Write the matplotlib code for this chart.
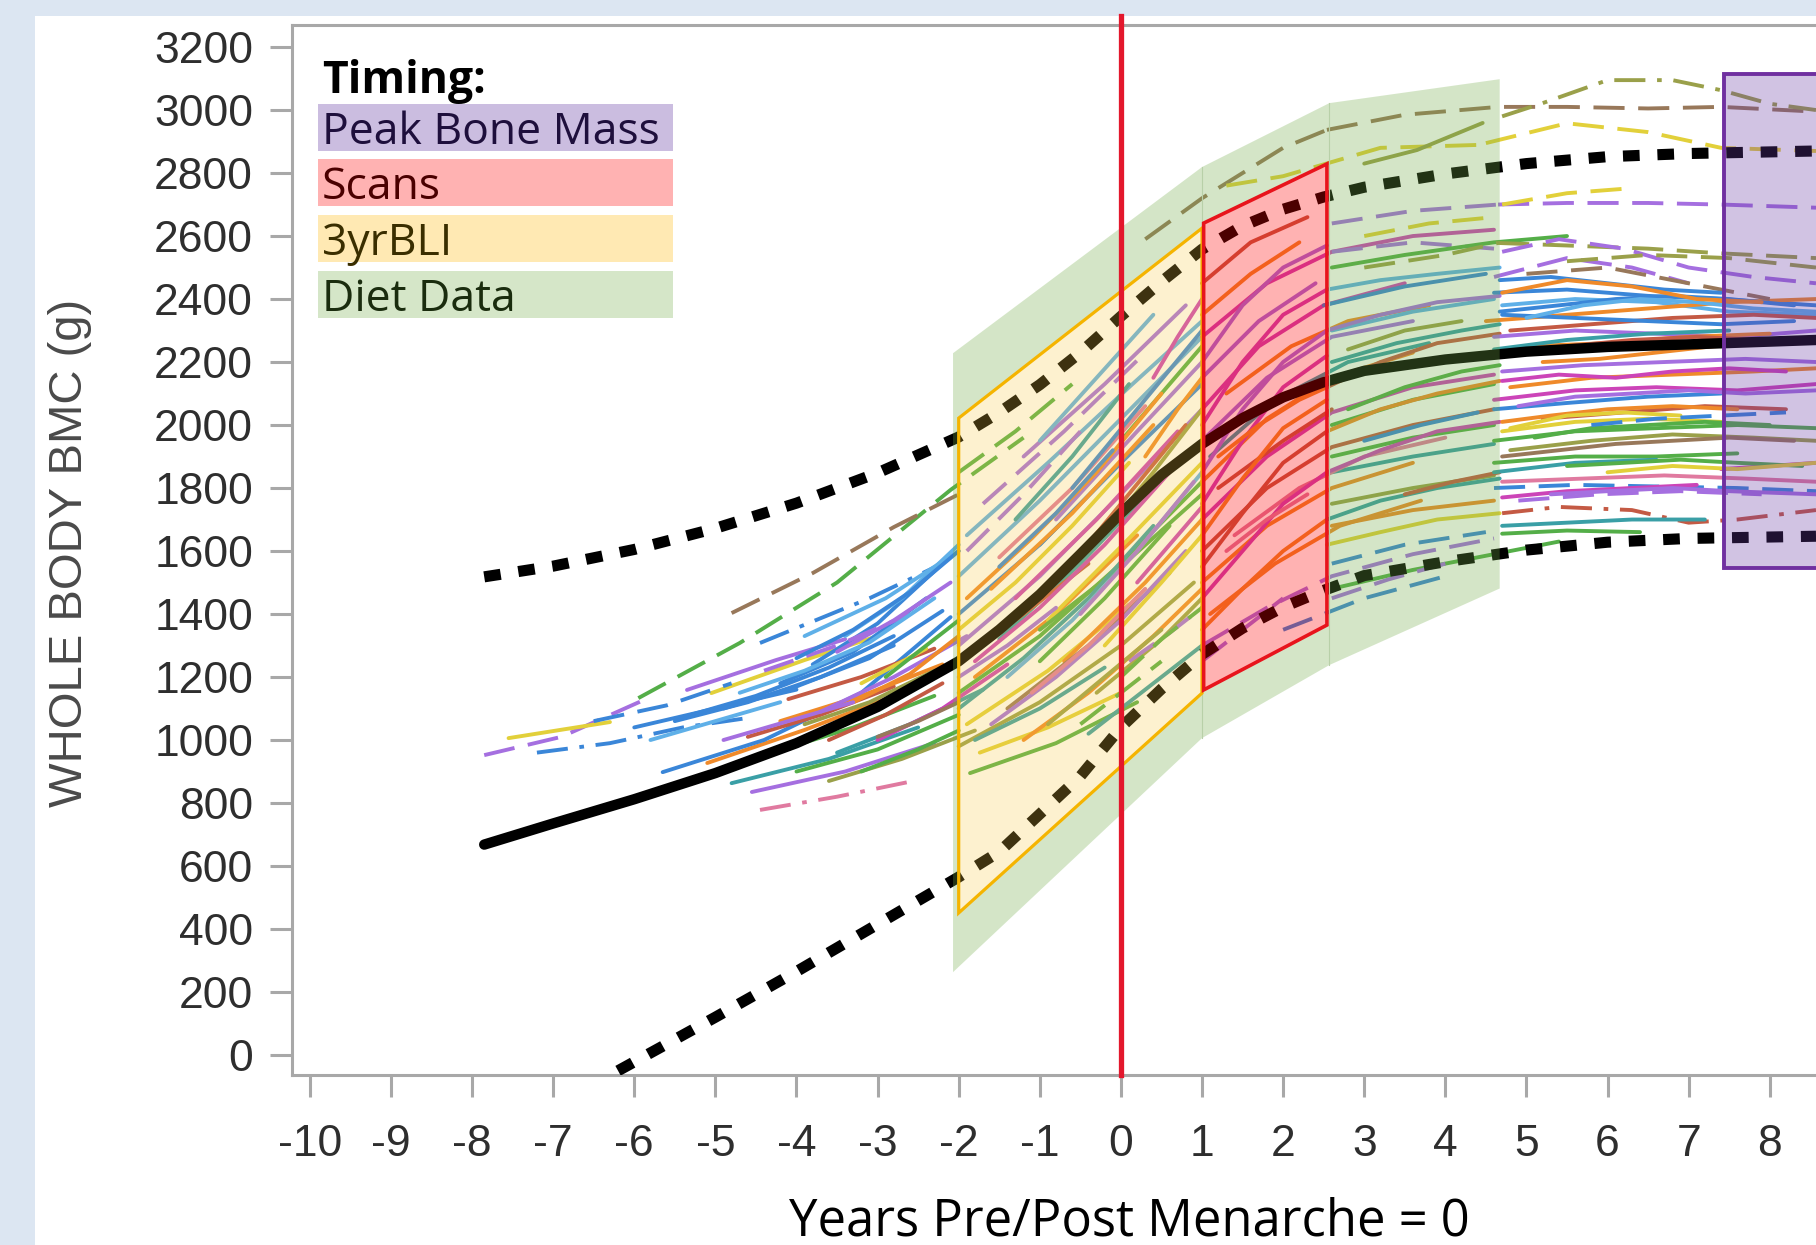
import matplotlib
matplotlib.use('Agg')
import matplotlib.pyplot as plt
from matplotlib.patches import Rectangle, PathPatch
from matplotlib.path import Path
from matplotlib.colors import to_rgba

plt.rcParams['font.family'] = ['Liberation Sans', 'DejaVu Sans']
plt.rcParams['axes.unicode_minus'] = False

W, H = 1816, 1245
SANS = ['Open Sans', 'Noto Sans', 'DejaVu Sans']

# curvas de referencia: media e limites (pontilhados)
curve_age = [-7.85, -7, -6, -5, -4, -3, -2, -1.5, -1, -0.5, 0, 0.5, 1, 1.5, 2, 2.5, 3, 4, 5, 6, 7, 8.57]
mean_bmc = [668, 735, 812, 895, 990, 1105, 1250, 1350, 1462, 1590, 1720, 1842, 1940, 2022, 2088, 2136,
            2172, 2208, 2233, 2248, 2256, 2270]
upper_bmc = [1518, 1552, 1605, 1672, 1752, 1848, 1962, 2040, 2128, 2230, 2345, 2455, 2558, 2632, 2685, 2724,
             2755, 2797, 2830, 2852, 2862, 2870]
lower_age = [-6.2, -5, -4, -3, -2, -1.5, -1, -0.5, 0, 0.5, 1, 1.5, 2, 2.5, 3, 4, 5, 6, 7, 8.57]
lower_bmc = [-50, 120, 265, 415, 565, 645, 765, 885, 1040, 1162, 1272, 1355, 1422, 1475, 1522, 1566, 1603,
             1628, 1640, 1647]

# janelas de tempo (Timing)
menarche_age = 0
diet_age = [-2.07, 1.0, 2.57, 4.67]
diet_low = [263, 1006, 1238, 1481]
diet_high = [2228, 2819, 3022, 3098]
bli_age = [-2.0, 1.0]
bli_low = [451, 1149]
bli_high = [2022, 2625]
scan_age = [1.02, 2.54]
scan_low = [1159, 1365]
scan_high = [2641, 2829]
peak_age = [7.43, 9.5]
peak_bmc = [1546, 3114]

# trajetorias individuais - antes da menarca
pre_age = [[-7.85, -6.9, -5.9], [-7.55, -6.3], [-7.2, -6.3, -5.4, -4.6], [-5.95, -4.7, -3.5, -2.1, -1.2],
           [-4.8, -3.8, -2.8, -2.0], [-4.45, -3.1, -2.2], [-5.35, -4.25, -3.4], [-5.05, -3.9, -3.0],
           [-5.1, -3.9, -2.9], [-4.8, -3.6, -2.5], [-4.45, -3.5, -2.5], [-4.55, -3.4, -2.3],
           [-5.65, -4.4, -3.2, -2.1], [-6.0, -5.0, -4.0], [-5.5, -4.6, -3.7, -2.8], [-4.9, -4.0, -3.1, -2.2],
           [-4.2, -3.3, -2.4], [-3.8, -3.0, -2.2], [-3.4, -2.7, -2.0], [-4.6, -3.7, -2.8],
           [-4.1, -3.2, -2.3], [-4.3, -3.3, -2.3], [-4.0, -3.0, -2.0], [-3.6, -2.7, -1.8],
           [-4.2, -3.2, -2.2], [-3.7, -2.8, -1.9], [-3.2, -2.4], [-3.5, -2.6, -1.7],
           [-3.0, -2.2, -1.4], [-4.4, -3.5, -2.6], [-3.9, -2.9, -2.0], [-3.0, -2.5, -2.0],
           [-5.8, -5.0, -4.2], [-5.3, -4.5, -3.6, -2.8], [-4.7, -3.9, -3.1, -2.3], [-4.0, -3.3, -2.6, -2.0],
           [-3.6, -2.9, -2.2], [-3.3, -2.6, -2.0], [-4.9, -4.1, -3.3], [-3.9, -3.1, -2.3],
           [-2.9, -2.4, -2.0], [-3.5, -2.8, -2.1], [-6.5, -5.6, -4.8], [-3.2, -2.5, -2.0]]
pre_bmc = [[952, 1010, 1125], [1006, 1057], [960, 990, 1040, 1070], [1133, 1308, 1500, 1794, 1960],
           [1403, 1530, 1676, 1780], [1308, 1450, 1560], [1159, 1254, 1320], [1149, 1254, 1330],
           [927, 1032, 1130], [863, 940, 1040], [778, 820, 873], [835, 900, 990],
           [898, 1000, 1150, 1390], [1040, 1100, 1160], [1060, 1120, 1200, 1300], [1100, 1170, 1260, 1410],
           [1180, 1280, 1450], [1240, 1370, 1560], [1330, 1450, 1620], [1010, 1080, 1170],
           [1130, 1200, 1290], [960, 1040, 1140], [900, 970, 1080], [870, 940, 1030],
           [1060, 1140, 1240], [1090, 1200, 1330], [1180, 1290], [960, 1050, 1160],
           [1000, 1100, 1240], [1220, 1300, 1400], [1330, 1450, 1600], [1010, 1060, 1120],
           [1000, 1060, 1120], [1080, 1140, 1230, 1330], [1150, 1220, 1310, 1450], [1260, 1350, 1470, 1600],
           [1000, 1080, 1180], [1120, 1210, 1330], [1000, 1060, 1120], [1050, 1120, 1220],
           [1200, 1300, 1380], [1280, 1380, 1500], [1060, 1110, 1180], [900, 970, 1030]]
pre_color = ['purple', 'yellow', 'blue', 'green', 'brown', 'blue', 'purple', 'yellow',
             'orange', 'teal', 'pink', 'purple', 'blue', 'blue', 'blue', 'blue',
             'blue', 'blue', 'lightblue', 'redbrown', 'redbrown', 'green', 'green', 'olive',
             'orange', 'purple', 'yellow', 'teal', 'magenta', 'purple', 'lightblue', 'brown',
             'lightblue', 'blue', 'lightblue', 'blue', 'redbrown', 'orange', 'purple', 'olive',
             'green', 'purple', 'blue', 'green']
pre_ls = ['dash', 'solid', 'dashdot', 'dash', 'dash', 'dashdot', 'solid', 'solid',
          'solid', 'solid', 'dashdot', 'solid', 'solid', 'solid', 'solid', 'solid',
          'solid', 'solid', 'solid', 'solid', 'solid', 'solid', 'solid', 'solid',
          'solid', 'solid', 'solid', 'solid', 'solid', 'dash', 'solid', 'solid',
          'solid', 'solid', 'solid', 'solid', 'solid', 'solid', 'solid', 'solid',
          'solid', 'solid', 'dash', 'solid']

# trajetorias - janela 3yrBLI
mid_age = [[-2.0, -1.0, 0.0, 1.0], [-2.0, -1.0, 0.0], [-2.0, -1.0, 0.0, 1.0], [-1.8, -0.8, 0.2],
           [-2.0, -1.0, 0.0, 1.0], [-1.9, -0.9, 0.1], [-2.0, -1.0, 0.0, 0.9], [-1.86, -0.8, 0.2],
           [-1.74, -0.9, 0.0], [-1.5, -0.5, 0.5], [-1.3, -0.3, 0.7], [-1.0, 0.0, 1.0],
           [-0.8, 0.2, 1.0], [-1.9, -0.9, 0.1, 1.0], [-1.7, -0.7, 0.3], [-1.2, -0.2, 0.8],
           [-0.7, 0.3, 1.0], [-0.5, 0.5], [-0.3, 0.5, 1.0], [-2.0, -1.2, -0.4],
           [-1.4, -0.4, 0.6], [-0.9, 0.1, 1.0], [0.0, 0.5, 1.0], [0.3, 1.0, 2.0, 2.54],
           [-2.0, -1.3, -0.6], [0.1, 0.6, 1.0], [-1.0, 0.0, 1.0], [-1.6, -0.6, 0.4],
           [-1.5, -0.6, 0.3], [-0.4, 0.4, 1.0],
           [-2.0, -1.2, -0.4, 0.4], [-2.0, -1.3, -0.6, 0.1], [-1.9, -1.1, -0.3, 0.5], [-1.8, -1.0, -0.2, 0.6],
           [-1.6, -0.8, 0.0, 0.8], [-1.4, -0.6, 0.2, 1.0], [-1.2, -0.4, 0.4, 1.0], [-1.0, -0.2, 0.6],
           [-0.8, 0.0, 0.8], [-0.6, 0.2, 1.0], [-0.4, 0.4, 1.0], [-2.0, -1.4, -0.8],
           [-1.5, -0.8, -0.1], [-0.2, 0.5, 1.0], [0.2, 0.6, 1.0], [-1.8, -1.0, -0.2],
           [-1.1, -0.4, 0.3], [-0.5, 0.2, 0.9], [0.3, 0.7, 1.0], [-1.9, -1.2, -0.5],
           [-1.0, -0.3, 0.4], [0.0, 0.5, 1.0], [-0.9, -0.2, 0.5], [0.4, 0.7, 1.0], [-1.3, -0.6, 0.1]]
mid_bmc = [[1520, 1760, 2020, 2280], [1400, 1620, 1880], [1300, 1520, 1780, 2050], [1200, 1400, 1650],
           [1150, 1330, 1560, 1820], [1050, 1220, 1430], [980, 1120, 1300, 1500], [895, 990, 1120],
           [960, 1040, 1150], [1320, 1560, 1830], [1450, 1700, 1980], [1620, 1880, 2130],
           [1700, 1980, 2200], [1650, 1880, 2120, 2330], [1750, 1980, 2230], [1900, 2130, 2380],
           [1250, 1500, 1700], [1050, 1250], [1150, 1320, 1450], [1250, 1400, 1560],
           [1100, 1300, 1530], [1380, 1640, 1880], [1950, 2100, 2250], [2590, 2720, 2880, 2937],
           [1850, 1980, 2130], [1250, 1340, 1420], [1350, 1550, 1780], [1480, 1720, 2000],
           [1580, 1800, 2060], [1020, 1180, 1300],
           [1100, 1260, 1450, 1680], [1350, 1500, 1680, 1880], [1450, 1640, 1850, 2100], [1250, 1420, 1620, 1850],
           [1050, 1200, 1380, 1600], [1200, 1380, 1600, 1850], [1000, 1150, 1330, 1480], [1250, 1450, 1680],
           [1500, 1750, 2000], [1800, 2050, 2300], [1600, 1850, 2050], [1200, 1300, 1420],
           [1550, 1720, 1920], [1300, 1500, 1650], [1500, 1620, 1740], [1000, 1100, 1230],
           [1150, 1300, 1480], [1400, 1600, 1820], [1900, 2050, 2150], [1600, 1780, 1980],
           [1950, 2150, 2350], [1200, 1320, 1420], [1050, 1200, 1350], [2150, 2280, 2400], [1700, 1900, 2130]]
mid_color = ['lightblue', 'blue', 'purple', 'orange', 'green', 'yellow', 'olive', 'green',
             'yellow', 'teal', 'magenta', 'blue', 'purple', 'lightblue', 'purple', 'purple',
             'orange', 'green', 'olive', 'redbrown', 'brown', 'yellow', 'green', 'brown',
             'green', 'purple', 'green', 'orange', 'pink', 'teal',
             'teal', 'yellow', 'orange', 'magenta', 'purple', 'lightblue', 'orange', 'green',
             'redbrown', 'blue', 'olive', 'purple', 'blue', 'yellow', 'magenta', 'teal',
             'pink', 'purple', 'orange', 'purple', 'lightblue', 'green', 'olive', 'magenta', 'teal']
mid_ls = ['solid', 'solid', 'solid', 'solid', 'solid', 'solid', 'solid', 'solid',
          'solid', 'solid', 'solid', 'solid', 'solid', 'solid', 'dash', 'solid',
          'solid', 'dash', 'solid', 'solid', 'solid', 'solid', 'solid', 'dash',
          'dash', 'dash', 'solid', 'solid', 'solid', 'solid',
          'solid', 'solid', 'solid', 'solid', 'solid', 'solid', 'solid', 'solid',
          'solid', 'solid', 'solid', 'solid', 'solid', 'solid', 'solid', 'solid',
          'solid', 'solid', 'solid', 'dash', 'solid', 'dash', 'solid', 'solid', 'solid']

# trajetorias - janela Scans e Diet Data
scan_traj_age = [[1.0, 1.8, 2.6, 3.6, 4.6], [1.0, 1.7, 2.5, 3.5], [1.0, 1.8, 2.6, 3.6], [1.0, 1.8, 2.6, 3.6, 4.6],
                 [1.0, 1.8, 2.6, 3.6], [1.0, 1.8, 2.6, 3.6, 4.6], [1.0, 1.8, 2.6, 3.6], [1.0, 1.7, 2.4],
                 [1.1, 1.9, 2.7, 3.7], [1.0, 1.8, 2.6, 3.6, 4.6], [1.0, 1.6, 2.3], [1.2, 2.0, 2.6],
                 [1.3, 2.1, 2.8, 3.8], [2.5, 3.5, 4.5], [2.6, 3.6, 4.6], [2.6, 3.4, 4.2, 4.67],
                 [2.6, 3.6, 4.6], [2.6, 3.6, 4.6], [2.6, 3.6, 4.6], [2.6, 3.6, 4.6],
                 [2.6, 3.6, 4.6], [2.6, 3.5, 4.5], [2.6, 3.6, 4.6, 5.4], [2.6, 3.6, 4.6],
                 [2.6, 3.5, 4.6, 5.5], [1.3, 2.0, 3.2, 4.5], [3.0, 3.65, 4.46], [2.6, 3.6, 4.65],
                 [3.0, 4.0, 4.65], [1.1, 1.9, 2.8, 3.8], [1.4, 2.2, 3.0, 4.0], [2.0, 3.0, 4.0],
                 [1.0, 1.5, 2.0, 2.54], [1.0, 1.5, 2.0, 2.54], [1.0, 1.5, 2.0, 2.54], [1.0, 1.5, 2.0, 2.54],
                 [1.0, 1.5, 2.0, 2.54], [1.0, 1.5, 2.0, 2.54], [1.0, 1.5, 2.0, 2.54], [1.0, 1.5, 2.0, 2.54],
                 [1.0, 1.5, 2.0], [1.2, 1.7, 2.2, 2.54], [1.3, 1.8, 2.3], [1.0, 1.6, 2.2],
                 [2.54, 3.2, 3.9, 4.67], [2.54, 3.2, 3.9, 4.67], [2.54, 3.2, 3.9, 4.67], [2.54, 3.2, 3.9, 4.67],
                 [2.54, 3.2, 3.9, 4.67], [2.54, 3.2, 3.9, 4.67], [2.54, 3.2, 3.9, 4.67], [2.8, 3.5, 4.2, 4.67],
                 [2.8, 3.5, 4.2], [3.0, 3.7, 4.4], [3.0, 3.8, 4.6], [3.5, 4.1, 4.67], [2.6, 3.3, 4.0]]
scan_traj_bmc = [[2280, 2450, 2550, 2600, 2620], [2050, 2250, 2380, 2450], [1820, 2020, 2150, 2230],
                 [1600, 1800, 1930, 2000, 2050], [1500, 1680, 1800, 1880], [1700, 1900, 2040, 2120, 2160],
                 [1950, 2150, 2280, 2330], [2150, 2330, 2450], [1400, 1560, 1680, 1760],
                 [1300, 1420, 1520, 1590, 1640], [2450, 2580, 2660], [1800, 1950, 2050],
                 [2100, 2250, 2330, 2380], [2380, 2440, 2480], [2300, 2360, 2400], [2200, 2260, 2300, 2320],
                 [2000, 2080, 2130], [1900, 1960, 2000], [1850, 1900, 1940], [1750, 1800, 1840],
                 [1680, 1730, 1760], [1560, 1620, 1660], [1480, 1540, 1590, 1630], [2550, 2580, 2560],
                 [2500, 2540, 2580, 2600], [2760, 2790, 2880, 2890], [2830, 2873, 2959], [2640, 2680, 2700],
                 [2500, 2540, 2578], [1900, 2080, 2200, 2260], [1650, 1800, 1900, 1960], [1350, 1450, 1520],
                 [1350, 1480, 1600, 1700], [1450, 1600, 1750, 1850], [1550, 1720, 1880, 1980],
                 [1650, 1830, 1990, 2080], [1750, 1950, 2120, 2220], [1850, 2050, 2200, 2300],
                 [2000, 2200, 2350, 2430], [2200, 2380, 2500, 2570], [1250, 1350, 1450],
                 [1900, 2000, 2080, 2120], [1600, 1700, 1780], [2350, 2480, 2580],
                 [2120, 2200, 2260, 2290], [1980, 2050, 2100, 2140], [1850, 1920, 1980, 2010],
                 [2300, 2350, 2390, 2410], [2430, 2460, 2480, 2500], [1700, 1760, 1800, 1830],
                 [1620, 1660, 1700, 1720], [2050, 2120, 2170, 2190], [2240, 2300, 2330], [1950, 2000, 2040],
                 [2600, 2640, 2660], [1780, 1820, 1850], [1450, 1510, 1560]]
scan_color = ['magenta', 'magenta', 'orange', 'redbrown', 'orange', 'magenta', 'purple', 'purple',
              'orange', 'purple', 'redbrown', 'redbrown', 'orange', 'blue', 'lightblue', 'teal',
              'green', 'green', 'teal', 'olive', 'orange', 'blue', 'green', 'purple',
              'green', 'yellow', 'olive', 'purple', 'olive', 'teal', 'pink', 'blue',
              'orange', 'magenta', 'redbrown', 'orange', 'magenta', 'purple', 'magenta', 'purple',
              'purple', 'orange', 'pink', 'orange',
              'redbrown', 'orange', 'magenta', 'purple', 'lightblue', 'teal', 'yellow', 'green',
              'olive', 'blue', 'yellow', 'redbrown', 'purple']
scan_ls = ['solid', 'solid', 'solid', 'solid', 'solid', 'solid', 'solid', 'solid',
           'solid', 'dash', 'solid', 'solid', 'solid', 'solid', 'solid', 'solid',
           'solid', 'solid', 'solid', 'solid', 'solid', 'dash', 'solid', 'dash',
           'solid', 'dash', 'solid', 'dash', 'dash', 'solid', 'solid', 'dash',
           'solid', 'solid', 'solid', 'solid', 'solid', 'solid', 'solid', 'solid',
           'dash', 'solid', 'solid', 'solid',
           'solid', 'solid', 'solid', 'solid', 'solid', 'solid', 'solid', 'solid',
           'solid', 'solid', 'dash', 'solid', 'dash']

# trajetorias - fase final (pico de massa ossea)
late_age = [[2.54, 3.5, 4.65, 5.5, 6.5, 7.4, 8.57], [4.7, 5.2, 6.0, 6.8, 7.4, 8.0, 8.57],
            [4.5, 5.5, 6.5, 7.4, 8.57], [4.65, 5.5, 6.5, 7.4, 8.57], [4.7, 5.5, 6.2],
            [4.65, 5.5, 6.5, 7.4, 8.57], [4.6, 5.5, 6.3, 7.0], [4.6, 5.5, 6.5, 7.4, 8.57],
            [4.7, 5.6, 6.6, 7.5, 8.57], [4.5, 5.5, 6.5, 7.5, 8.57], [4.8, 5.8, 6.8, 7.8, 8.57],
            [4.6, 5.6, 6.6, 7.6, 8.57], [5.0, 6.0, 7.0, 8.0], [4.7, 5.7, 6.7, 7.7, 8.57],
            [4.8, 5.8, 6.8, 7.8, 8.57], [4.6, 5.6, 6.6, 7.6, 8.57], [4.6, 5.5, 6.5, 7.4],
            [4.7, 5.6, 6.5, 7.4], [4.6, 5.6, 6.6, 7.6, 8.57], [4.8, 5.8, 6.8, 7.8, 8.57],
            [4.6, 5.6, 6.6, 7.6], [4.6, 5.6, 6.6], [4.7, 5.7, 6.7, 7.7, 8.57],
            [4.6, 5.6, 6.6, 7.6, 8.57], [4.7, 5.4, 6.3, 7.0, 7.6, 8.57], [4.7, 5.5, 6.4],
            [5.0, 6.0, 7.0, 8.0], [7.4, 8.0, 8.57], [4.6, 5.5, 6.5, 7.5], [5.2, 6.2, 7.2, 8.2],
            [4.7, 5.6, 6.5, 7.4, 8.3], [4.9, 5.9, 6.9, 7.9],
            [4.67, 5.3, 6.0, 6.7, 7.4], [4.67, 5.4, 6.1, 6.8, 7.5, 8.3], [5.0, 5.7, 6.4, 7.1, 7.8, 8.57],
            [4.7, 5.5, 6.3, 7.1, 7.9], [5.2, 5.9, 6.6, 7.3, 8.0], [4.7, 5.4, 6.1, 6.8, 7.5, 8.2],
            [4.9, 5.6, 6.3, 7.0, 7.7, 8.57], [4.7, 5.3, 6.0, 6.8, 7.6], [5.1, 5.8, 6.5, 7.2, 8.0],
            [4.8, 5.5, 6.2, 6.9], [4.7, 5.4, 6.1, 6.8, 7.5, 8.3], [5.5, 6.2, 6.9, 7.6, 8.4],
            [4.7, 5.5, 6.3, 7.1], [5.3, 6.0, 6.8, 7.5, 8.57], [4.7, 5.4, 6.2, 7.0, 7.8, 8.57],
            [5.5, 6.5, 7.5, 8.57], [4.7, 5.5, 6.3, 7.2], [6.0, 6.8, 7.6, 8.57],
            [4.7, 5.5, 6.3, 7.1, 7.9], [5.8, 6.6, 7.4, 8.2]]
late_bmc = [[2937, 2985, 3010, 3010, 3005, 3010, 2995], [2980, 3022, 3095, 3095, 3063, 3020, 3000],
            [2895, 2958, 2930, 2880, 2870], [2700, 2705, 2705, 2700, 2690], [2700, 2736, 2750],
            [2578, 2570, 2560, 2545, 2530], [2470, 2530, 2500, 2450], [2420, 2430, 2410, 2400, 2380],
            [2380, 2400, 2390, 2360, 2350], [2330, 2350, 2370, 2390, 2400], [2300, 2320, 2340, 2350, 2340],
            [2280, 2300, 2290, 2280, 2300], [2480, 2500, 2450, 2400], [2170, 2190, 2200, 2210, 2200],
            [2120, 2150, 2160, 2170, 2180], [2080, 2110, 2120, 2110, 2130], [2050, 2070, 2090, 2100],
            [1980, 2010, 2020, 2010], [1950, 1980, 1990, 2000, 1990], [1920, 1950, 1970, 1960, 1950],
            [1880, 1900, 1900, 1910], [1850, 1880, 1890], [1820, 1830, 1840, 1830, 1820],
            [1800, 1810, 1805, 1800, 1790], [1720, 1740, 1730, 1690, 1700, 1730], [1655, 1665, 1660],
            [2250, 2260, 2280, 2290], [1860, 1870, 1880], [2240, 2270, 2290, 2300], [2020, 2040, 2060, 2050],
            [2350, 2340, 2330, 2320, 2330], [1760, 1780, 1790, 1780],
            [2460, 2470, 2450, 2430, 2420], [2360, 2380, 2400, 2410, 2400, 2380],
            [2340, 2380, 2400, 2390, 2370, 2360], [2230, 2250, 2270, 2280, 2270],
            [2200, 2210, 2230, 2250, 2260], [2140, 2160, 2150, 2170, 2180, 2170],
            [2060, 2090, 2100, 2110, 2100, 2110], [2010, 2030, 2050, 2060, 2050],
            [1960, 1990, 2000, 2010, 2000], [1990, 2030, 2040, 2030],
            [1900, 1920, 1940, 1950, 1960, 1950], [1870, 1880, 1890, 1880, 1870],
            [1770, 1790, 1800, 1810], [1780, 1790, 1800, 1790, 1780],
            [2550, 2590, 2560, 2500, 2470, 2450], [2520, 2540, 2530, 2500],
            [1680, 1690, 1700, 1700], [1850, 1870, 1860, 1880],
            [2420, 2460, 2440, 2400, 2390], [2000, 2020, 2030, 2040]]
late_color = ['brown', 'olive', 'yellow', 'purple', 'yellow', 'olive', 'purple', 'blue',
              'lightblue', 'orange', 'redbrown', 'purple', 'brown', 'purple', 'orange', 'magenta',
              'blue', 'yellow', 'green', 'olive', 'green', 'teal', 'pink', 'blue',
              'redbrown', 'green', 'orange', 'magenta', 'teal', 'redbrown', 'blue', 'purple',
              'blue', 'blue', 'lightblue', 'redbrown', 'orange', 'magenta', 'purple', 'orange',
              'green', 'yellow', 'brown', 'green', 'magenta', 'purple', 'purple', 'olive',
              'teal', 'yellow', 'orange', 'blue']
late_ls = ['dash', 'dashdot', 'dash', 'dash', 'dash', 'dash', 'dash', 'solid',
           'solid', 'solid', 'solid', 'solid', 'dash', 'solid', 'solid', 'solid',
           'solid', 'solid', 'solid', 'solid', 'solid', 'solid', 'solid', 'dash',
           'dashdot', 'solid', 'solid', 'solid', 'solid', 'solid', 'solid', 'dash',
           'solid', 'solid', 'solid', 'solid', 'solid', 'solid', 'solid', 'solid',
           'solid', 'solid', 'solid', 'solid', 'solid', 'solid', 'dash', 'dash',
           'solid', 'solid', 'solid', 'dash']

legend_labels = ['Peak Bone Mass', 'Scans', '3yrBLI', 'Diet Data']

palette = {'blue': '#3a86d8', 'lightblue': '#5fb0e8', 'purple': '#a56fe0', 'magenta': '#cc44b8',
           'orange': '#ef8a2a', 'redbrown': '#c45a44', 'brown': '#98785a', 'olive': '#9aa04a',
           'green': '#54ae48', 'teal': '#3a9fa6', 'yellow': '#e2d03a', 'pink': '#e07aa0'}
styles = {'solid': '-', 'dash': (0, (8, 3.5)), 'dashdot': (0, (8, 3, 1.2, 3))}

fig = plt.figure(figsize=(W / 100, H / 100), dpi=100)
fig.patch.set_facecolor('#dce6f2')
fig.add_artist(Rectangle((35 / W, 0), 1 - 35 / W, 1 - 16 / H, transform=fig.transFigure,
                         facecolor='white', edgecolor='none', zorder=-1))
ax = fig.add_axes([292 / W, 170 / H, 1 - 292 / W, 1050 / H])
ax.set_facecolor('white')
ax.set_xlim(-10.22, 8.57)
ax.set_ylim(-63.5, 3270)

# trajetorias individuais
for ages, vals, cols, lss in [(pre_age, pre_bmc, pre_color, pre_ls), (mid_age, mid_bmc, mid_color, mid_ls),
                              (scan_traj_age, scan_traj_bmc, scan_color, scan_ls),
                              (late_age, late_bmc, late_color, late_ls)]:
    for a, v, c, s in zip(ages, vals, cols, lss):
        ax.plot(a, v, color=palette[c], lw=2.8, ls=styles[s], solid_capstyle='round', zorder=2)

# media e limites
ax.plot(curve_age, mean_bmc, color='black', lw=7.5, solid_capstyle='round', solid_joinstyle='round', zorder=3)
ax.plot(curve_age, upper_bmc, color='black', lw=8, ls=(0, (1.5, 1.6)), dash_capstyle='butt', zorder=3)
ax.plot(lower_age, lower_bmc, color='black', lw=8, ls=(0, (1.5, 1.6)), dash_capstyle='butt', zorder=3)

# Diet Data (com recortes para as outras janelas)
outer = list(zip(diet_age, diet_low)) + list(zip(diet_age[::-1], diet_high[::-1]))
bli = list(zip(bli_age, bli_low)) + list(zip(bli_age[::-1], bli_high[::-1]))
scan = list(zip(scan_age, scan_low)) + list(zip(scan_age[::-1], scan_high[::-1]))
verts, codes = [], []
for poly in [outer, bli[::-1], scan[::-1]]:
    verts += poly + [poly[0]]
    codes += [Path.MOVETO] + [Path.LINETO] * (len(poly) - 1) + [Path.CLOSEPOLY]
ax.add_patch(PathPatch(Path(verts, codes), facecolor=to_rgba('#73ac48', 0.3), edgecolor='none', zorder=4))
for i in [1, 2]:
    ax.plot([diet_age[i], diet_age[i]], [diet_low[i], diet_high[i]], color='#b8d0a8', lw=0.8, zorder=4)

ax.add_patch(plt.Polygon(bli, closed=True, facecolor=to_rgba('#f8cb43', 0.25), edgecolor='#f5b400',
                         lw=2.3, zorder=4))
ax.add_patch(plt.Polygon(scan, closed=True, facecolor=to_rgba('#ff0000', 0.3), edgecolor='#e8141c',
                         lw=2.6, zorder=4))
ax.add_patch(Rectangle((peak_age[0], peak_bmc[0]), peak_age[1] - peak_age[0], peak_bmc[1] - peak_bmc[0],
                       facecolor=to_rgba('#693aa5', 0.3), edgecolor='#7030a0', lw=2.8, zorder=4))

ax.axvline(menarche_age, ymin=0, ymax=(1075 - 16) / 1050, color='#e3172c', lw=3.8, clip_on=False, zorder=6)

ax.set_xticks(range(-10, 9))
ax.set_yticks(range(0, 3201, 200))
ax.tick_params(axis='both', direction='out', length=16, width=2.2, color='#a8a8a8',
               labelsize=32, labelcolor='#2e2e2e')
ax.tick_params(axis='x', pad=19)
ax.tick_params(axis='y', pad=12)
for side in ['left', 'top', 'bottom']:
    ax.spines[side].set_color('#a8a8a8')
    ax.spines[side].set_linewidth(2.2)
ax.spines['right'].set_visible(False)

fig.text(70 / W, 1 - 553 / H, 'WHOLE BODY BMC (g)', rotation=90, ha='center', va='center',
         fontsize=34, color='#4a4a4a')
fig.text(1129 / W, 1 - 1236 / H, 'Years Pre/Post Menarche = 0', ha='center', va='baseline',
         fontsize=36.5, family=SANS, color='black')

# legenda "Timing:"
fig.text(322 / W, 1 - 93 / H, 'Timing:', ha='left', va='baseline', fontsize=32, fontweight='bold',
         family=SANS, color='black')
box_fill = ['#cbbde0', '#ffb2b2', '#ffe9b3', '#d5e6c8']
box_text = ['#1e0f3c', '#4a0000', '#3a2e00', '#1a2c0e']
box_top = [104, 159, 215, 271]
for label, fc, tc, top in zip(legend_labels, box_fill, box_text, box_top):
    fig.add_artist(Rectangle((318 / W, 1 - (top + 47) / H), 355 / W, 47 / H, transform=fig.transFigure,
                             facecolor=fc, edgecolor='none', zorder=3))
    fig.text(322 / W, 1 - (top + 40) / H, label, ha='left', va='baseline', fontsize=32,
             family=SANS, color=tc, zorder=4)

fig.savefig('out.png', dpi=100, facecolor=fig.get_facecolor())
